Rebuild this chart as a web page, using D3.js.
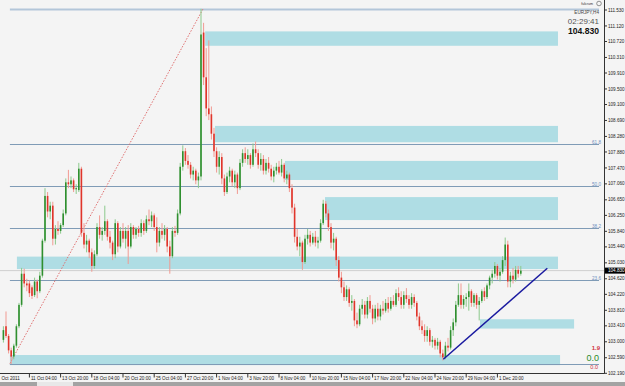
<!DOCTYPE html>
<html><head><meta charset="utf-8">
<script src="https://cdn.jsdelivr.net/npm/d3@7"></script>
<style>body{margin:0;background:#fff}svg{display:block}</style>
</head><body>
<svg id="c" width="625" height="386"></svg>
<script>
// ---- data ----
const open=[103.05,103.40,103.15,102.78,102.62,102.90,103.40,103.95,104.75,104.50,
104.50,104.40,104.20,104.55,104.30,104.70,105.60,106.75,106.35,106.50,
105.65,105.90,105.85,106.00,106.30,107.10,107.05,107.15,106.92,106.90,
107.45,105.80,105.50,105.60,105.30,104.95,105.25,105.95,105.75,105.85,
106.10,105.70,105.55,105.25,106.05,105.45,105.85,105.65,105.85,105.45,
105.95,105.75,105.90,105.80,106.05,105.85,106.15,106.10,106.25,105.95,
105.55,105.85,105.75,105.90,105.45,105.20,105.85,105.80,106.30,107.50,
107.90,107.65,107.55,107.30,107.40,107.15,107.25,110.95,109.80,109.00,
108.85,108.35,107.90,107.50,107.75,107.20,106.85,107.25,107.40,107.10,
107.30,106.95,107.60,107.85,107.70,107.80,107.55,107.95,107.85,107.55,
107.70,107.40,107.60,107.45,107.25,107.40,107.50,107.35,107.55,107.20,
107.30,106.95,106.45,105.70,105.45,105.55,105.05,105.65,105.75,105.55,
105.70,105.55,105.60,106.05,106.55,106.30,105.95,105.55,105.65,105.10,
104.65,104.40,104.15,104.35,104.00,104.05,103.55,103.45,103.85,103.95,
103.70,104.05,103.85,103.60,103.85,103.65,103.85,103.80,104.00,103.85,
104.05,103.95,104.25,104.15,103.95,104.20,104.10,103.95,104.15,104.00,
103.65,103.40,103.30,103.15,103.30,103.00,103.05,102.90,103.00,102.70,
102.60,102.90,102.85,103.30,103.50,103.95,104.20,103.95,104.10,104.15,
104.30,104.00,104.20,103.95,104.05,104.30,104.15,104.45,104.65,104.75,
104.95,104.70,104.80,105.10,105.50,104.55,104.70,104.60,104.85,104.75];
const high=[103.40,103.78,103.20,102.85,102.95,103.45,104.00,104.90,104.88,104.62,
104.58,104.45,104.65,104.60,104.80,105.65,106.95,106.85,106.60,106.60,
106.00,106.10,106.05,106.40,107.20,107.42,107.25,107.20,107.05,107.60,
107.50,106.05,105.75,105.65,105.40,105.35,106.05,106.25,105.95,106.50,
106.15,105.85,105.60,106.15,106.10,105.95,106.05,105.95,106.00,106.05,
106.00,105.95,105.98,106.15,106.12,106.25,106.40,106.35,106.30,106.20,
105.95,106.05,106.00,105.95,105.60,105.95,105.98,106.40,107.60,108.05,
107.98,107.80,107.62,107.50,107.45,107.35,111.56,111.20,110.55,110.75,
109.05,108.50,108.00,107.90,107.85,107.30,107.35,107.50,107.45,107.40,
107.35,107.70,107.95,108.00,107.95,107.85,108.10,108.15,107.95,107.85,
107.80,107.70,107.75,107.55,107.50,107.60,107.65,107.70,107.60,107.40,
107.35,107.05,106.55,105.90,105.70,105.60,105.75,105.90,105.85,105.80,
105.85,105.70,106.15,106.65,106.62,106.40,106.05,105.80,105.70,105.20,
104.80,104.55,104.45,104.40,104.20,104.10,103.75,103.95,104.10,104.05,
104.15,104.20,103.95,103.95,104.00,103.95,104.05,104.10,104.15,104.15,
104.20,104.35,104.40,104.30,104.30,104.38,104.20,104.25,104.22,104.05,
103.75,103.55,103.45,103.40,103.35,103.15,103.10,103.10,103.05,102.80,
103.00,103.10,103.40,103.60,104.05,104.50,104.50,104.20,104.25,104.50,
104.35,104.25,104.25,104.15,104.35,104.40,104.50,104.70,104.85,105.05,
105.00,104.90,105.20,105.68,105.60,104.80,104.90,104.95,104.95,104.95];
const low=[102.98,103.10,102.70,102.43,102.55,102.85,103.35,103.90,104.40,104.30,
104.15,104.10,104.15,104.12,104.25,104.65,105.55,106.20,106.15,105.48,
105.50,105.75,105.78,105.95,106.25,106.95,106.95,106.85,106.80,106.85,
105.70,105.40,105.30,105.15,104.80,104.88,105.20,105.65,105.60,105.75,
105.60,105.40,105.10,105.15,105.30,105.40,105.55,105.40,105.00,105.40,
105.65,105.65,105.70,105.70,105.75,105.80,106.00,105.95,105.85,105.30,
105.45,105.65,105.60,105.30,104.75,105.15,105.70,105.75,106.25,107.40,
107.55,107.45,107.20,107.15,107.05,106.95,107.15,109.60,108.80,108.70,
108.20,107.75,107.35,107.30,107.05,106.75,106.80,107.10,107.00,106.95,
106.80,106.90,107.50,107.60,107.55,107.45,107.50,107.75,107.45,107.40,
107.30,107.30,107.35,107.15,107.10,107.30,107.30,107.25,107.10,107.05,
106.85,106.30,105.55,105.35,105.20,104.85,105.00,105.50,105.45,105.50,
105.45,105.40,105.55,106.00,106.20,105.85,105.40,105.35,104.95,104.55,
104.25,104.05,104.05,103.90,103.80,103.40,103.35,103.40,103.70,103.60,
103.60,103.75,103.45,103.50,103.55,103.55,103.70,103.75,103.75,103.80,
103.90,103.90,104.05,103.85,103.85,104.00,103.85,103.85,103.90,103.55,
103.30,103.20,103.00,103.00,102.90,102.85,102.80,102.80,102.60,102.52,
102.55,102.75,102.80,103.15,103.40,103.90,103.85,103.85,103.90,103.80,
103.90,103.90,103.85,103.55,104.00,104.05,104.10,104.35,104.50,104.65,
104.60,104.55,104.75,104.95,104.40,104.40,104.50,104.55,104.65,104.70];
const close=[103.30,103.15,102.78,102.62,102.90,103.40,103.95,104.75,104.50,104.45,
104.25,104.18,104.55,104.30,104.70,105.60,106.75,106.35,106.50,105.65,
105.90,105.85,106.00,106.30,107.10,107.05,107.15,106.92,106.95,107.45,
105.80,105.50,105.60,105.30,104.95,105.25,105.95,105.75,105.85,106.10,
105.70,105.55,105.25,106.05,105.45,105.85,105.65,105.85,105.45,105.95,
105.75,105.90,105.80,106.05,105.85,106.15,106.10,106.25,105.95,105.55,
105.85,105.75,105.90,105.45,105.20,105.85,105.80,106.30,107.50,107.90,
107.65,107.55,107.30,107.40,107.15,107.25,110.90,109.80,109.00,108.85,
108.35,107.90,107.50,107.75,107.20,106.85,107.25,107.40,107.10,107.30,
106.95,107.60,107.85,107.70,107.80,107.55,107.95,107.85,107.55,107.70,
107.40,107.60,107.45,107.25,107.40,107.50,107.35,107.55,107.20,107.30,
106.95,106.45,105.70,105.45,105.55,105.05,105.65,105.75,105.55,105.70,
105.55,105.60,106.05,106.55,106.30,105.95,105.55,105.65,105.10,104.65,
104.40,104.15,104.35,104.00,104.05,103.55,103.45,103.85,103.95,103.70,
104.05,103.85,103.60,103.85,103.65,103.85,103.80,104.00,103.85,104.05,
103.95,104.25,104.15,103.95,104.20,104.10,103.95,104.15,104.00,103.65,
103.40,103.30,103.15,103.30,103.00,103.05,102.90,103.00,102.70,102.60,
102.90,102.85,103.30,103.50,103.95,104.20,103.95,104.10,104.15,104.30,
104.00,104.20,103.95,104.05,104.30,104.15,104.45,104.65,104.75,104.95,
104.70,104.80,105.10,105.50,104.55,104.70,104.60,104.85,104.75,104.83];

const timeLabels=["Oct 2011","11 Oct 04:00","13 Oct 20:00","18 Oct 04:00","20 Oct 20:00","25 Oct 04:00","27 Oct 20:00","1 Nov 04:00","3 Nov 20:00","8 Nov 04:00","10 Nov 20:00","15 Nov 04:00","17 Nov 20:00","22 Nov 04:00","24 Nov 20:00","29 Nov 04:00","1 Dec 20:00"];
const timeLabelBars=[0,10,22,34,46,58,70,82,94,106,118,130,142,154,166,178,190];
const priceTicks=[111.530,111.120,110.720,110.310,109.910,109.500,109.100,108.690,108.280,107.880,107.470,107.060,106.650,106.250,105.840,105.440,105.030,104.620,104.220,103.810,103.410,103.000,102.590,102.190];
const currentPrice=104.830;
const fibLevels=[0,23.6,38.2,50.0,61.8,100];
const fibLabels=["","23.6","38.2","50.0","61.8",""];
const fibLowPrice=102.44, fibHighPrice=111.56, fibLowBar=2.5, fibHighBar=76.8;
// zones: [top price, bottom price, start bar, end bar]
const zoneTop=[110.98,108.55,107.65,106.72,105.19,103.58,102.66];
const zoneBottom=[110.61,108.13,107.16,106.13,104.87,103.34,102.40];
const zoneStart=[77.6,81.4,108.3,123.7,5.2,183.3,2.5];
const zoneEnd=[213.3,213.3,213.3,213.3,213.3,219.5,214.1];
const trendBars=[169.2,209.2], trendPrices=[102.55,104.89];
const symbolText="EURJPY,H4", clockText="02:29:41", priceText="104.830";

// ---- drawing ----
const svg=d3.select("#c");
const W=625,H=386, axisX=604, axisY=373.5;
const x=d3.scaleLinear().domain([0,199]).range([3.4,3.4+2.6*199]);
const y=d3.scaleLinear().domain([102.19,111.53]).range([373.3,10]);
const font="Liberation Sans, Arial, sans-serif";

svg.append("rect").attr("width",W).attr("height",H).attr("fill","#f4f4f4");
svg.append("rect").attr("x",0).attr("y",382).attr("width",W).attr("height",4).attr("fill","#a3a3a3");
svg.append("rect").attr("x",37).attr("y",382).attr("width",36).attr("height",4).attr("fill","#e8e8e8");

// zones
svg.append("g").selectAll("rect").data(zoneTop).join("rect")
 .attr("x",(d,i)=>x(zoneStart[i])).attr("width",(d,i)=>x(zoneEnd[i])-x(zoneStart[i]))
 .attr("y",d=>y(d)).attr("height",(d,i)=>y(zoneBottom[i])-y(d)).attr("fill","#afdde4");

// current price line
svg.append("line").attr("x1",0).attr("x2",axisX).attr("y1",y(currentPrice)).attr("y2",y(currentPrice)).attr("stroke","#cfcfcf").attr("stroke-width",1);

// fib levels
const fibPrice=l=>fibLowPrice+(fibHighPrice-fibLowPrice)*l/100;
const fg=svg.append("g");
fg.selectAll("line").data(fibLevels).join("line")
 .attr("x1",x(fibLowBar)).attr("x2",599)
 .attr("y1",d=>Math.round(y(fibPrice(d)))+0.5).attr("y2",d=>Math.round(y(fibPrice(d)))+0.5)
 .attr("stroke",d=>d===100?"#b3c6d9":"#7f9bb6").attr("stroke-width",d=>d===100?2:1);
fg.selectAll("text").data(fibLevels).join("text")
 .attr("x",601).attr("y",d=>y(fibPrice(d))).attr("text-anchor","end")
 .attr("font-family",font).attr("font-size",4.6).attr("fill","#6f8fc0").text((d,i)=>fibLabels[i]);
// fib dotted diagonal
svg.append("line").attr("x1",x(fibLowBar)).attr("y1",y(fibLowPrice)).attr("x2",x(fibHighBar)).attr("y2",y(fibHighPrice))
 .attr("stroke","#e07070").attr("stroke-width",1).attr("stroke-dasharray","1.5,1.5");

// candles
const idx=d3.range(close.length);
const cg=svg.append("g");
cg.selectAll("line").data(idx).join("line")
 .attr("x1",i=>x(i)).attr("x2",i=>x(i)).attr("y1",i=>y(high[i])).attr("y2",i=>y(low[i]))
 .attr("stroke",i=>close[i]>=open[i]?"#8cc98c":"#f19a92").attr("stroke-width",1);
cg.selectAll("rect").data(idx).join("rect")
 .attr("x",i=>x(i)-0.8).attr("width",1.6)
 .attr("y",i=>y(Math.max(open[i],close[i])))
 .attr("height",i=>Math.max(1,Math.abs(y(open[i])-y(close[i]))))
 .attr("fill",i=>close[i]>=open[i]?"#2f8f2f":"#e0352b");

// trend line
svg.append("line").attr("x1",x(trendBars[0])).attr("y1",y(trendPrices[0])).attr("x2",x(trendBars[1])).attr("y2",y(trendPrices[1]))
 .attr("stroke","#1a1aa0").attr("stroke-width",1.5);

// axes frame
svg.append("rect").attr("x",axisX).attr("y",0).attr("width",W-axisX).attr("height",axisY).attr("fill","#f4f4f4");
svg.append("line").attr("x1",axisX+0.5).attr("x2",axisX+0.5).attr("y1",0).attr("y2",axisY).attr("stroke","#333");
svg.append("line").attr("x1",0).attr("x2",axisX+0.5).attr("y1",axisY).attr("y2",axisY).attr("stroke","#333");

// right axis
const ra=svg.append("g");
ra.selectAll("line").data(priceTicks).join("line")
 .attr("x1",axisX).attr("x2",axisX+3).attr("y1",d=>y(d)).attr("y2",d=>y(d)).attr("stroke","#333");
ra.selectAll("text").data(priceTicks).join("text")
 .attr("x",axisX+4).attr("y",d=>y(d)+1.6).attr("font-family",font).attr("font-size",4.6).attr("fill","#222")
 .text(d=>d.toFixed(3));
svg.append("rect").attr("x",axisX+1).attr("y",y(currentPrice)-3).attr("width",W-axisX-1).attr("height",6).attr("fill","#000");
svg.append("text").attr("x",axisX+4).attr("y",y(currentPrice)+1.6).attr("font-family",font).attr("font-size",4.6).attr("fill","#fff").text(currentPrice.toFixed(3));

// bottom axis
const ba=svg.append("g");
ba.selectAll("line").data(timeLabelBars.slice(1)).join("line")
 .attr("x1",d=>x(d)).attr("x2",d=>x(d)).attr("y1",axisY).attr("y2",axisY+4).attr("stroke","#333");
ba.selectAll("text").data(timeLabels).join("text")
 .attr("x",(d,i)=>i===0?1.5:x(timeLabelBars[i])+1.5).attr("y",379.5)
 .attr("font-family",font).attr("font-size",4.6).attr("fill","#222").text(d=>d);

// top-right info
svg.append("text").attr("x",593).attr("y",5).attr("text-anchor","end").attr("font-family",font).attr("font-size",3.6).attr("fill","#333").text("fulcrum");
svg.append("circle").attr("cx",599).attr("cy",3.5).attr("r",2.3).attr("fill","none").attr("stroke","#666").attr("stroke-width",0.7);
svg.append("text").attr("x",599).attr("y",13.5).attr("text-anchor","end").attr("font-family",font).attr("font-size",4.6).attr("fill","#444").text(symbolText);
svg.append("text").attr("x",599).attr("y",23.5).attr("text-anchor","end").attr("font-family",font).attr("font-size",8).attr("fill","#555").text(clockText);
svg.append("text").attr("x",599).attr("y",33.5).attr("text-anchor","end").attr("font-family",font).attr("font-size",8.6).attr("font-weight","bold").attr("fill","#111").text(priceText);

// bottom-right indicator values
svg.append("text").attr("x",600).attr("y",350).attr("text-anchor","end").attr("font-family",font).attr("font-size",6).attr("font-weight","bold").attr("fill","#d03040").text("1.9");
svg.append("text").attr("x",599).attr("y",361).attr("text-anchor","end").attr("font-family",font).attr("font-size",9).attr("fill","#2a8a2a").text("0.0");
svg.append("text").attr("x",598).attr("y",369).attr("text-anchor","end").attr("font-family",font).attr("font-size",5.5).attr("fill","#d03040").text("0.0");
</script>
</body></html>
